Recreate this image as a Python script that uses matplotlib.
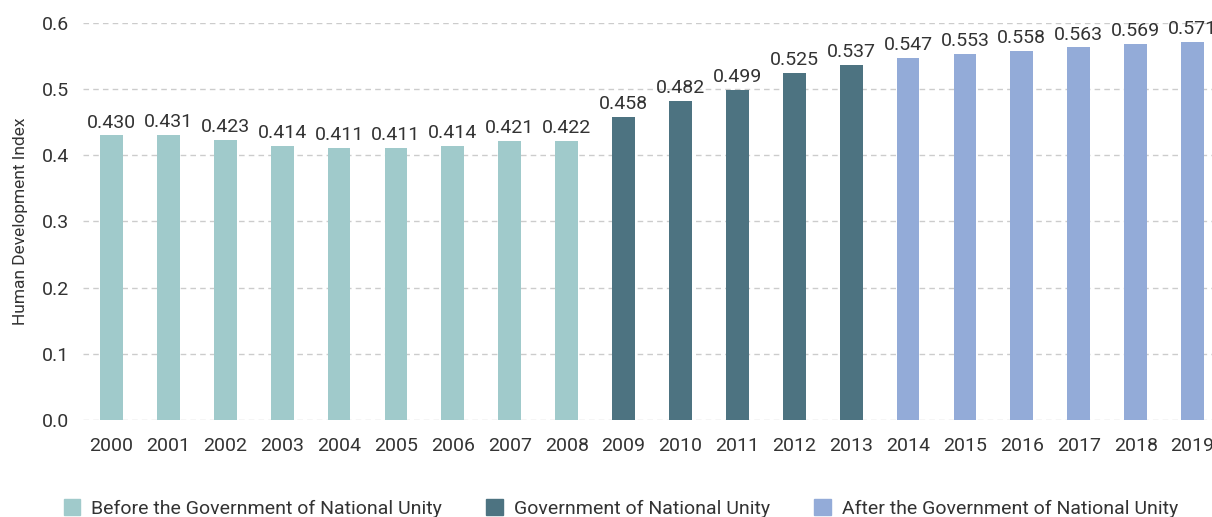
import matplotlib.pyplot as plt
from matplotlib.patches import Patch

years = [str(y) for y in range(2000, 2020)]
hdi = [0.430, 0.431, 0.423, 0.414, 0.411, 0.411, 0.414, 0.421, 0.422,
       0.458, 0.482, 0.499, 0.525, 0.537,
       0.547, 0.553, 0.558, 0.563, 0.569, 0.571]
period = ['before'] * 9 + ['gnu'] * 5 + ['after'] * 6

colors = {'before': '#A0CACB', 'gnu': '#4D7381', 'after': '#93ABD8'}
labels = {'before': 'Before the Government of National Unity',
          'gnu': 'Government of National Unity',
          'after': 'After the Government of National Unity'}

plt.rcParams['font.family'] = ['Roboto', 'DejaVu Sans']
text_col = '#333333'

fig = plt.figure(figsize=(12.12, 5.17), dpi=100)
ax = fig.add_axes([83 / 1212, 97 / 517, (1221 - 83) / 1212, (420 - 23) / 517])

x = range(len(years))
ax.bar(x, hdi, width=0.4, color=[colors[p] for p in period], zorder=2)

for i, v in enumerate(hdi):
    ax.text(i, v + 0.006, f'{v:.3f}', ha='center', va='bottom',
            fontsize=14, color=text_col, clip_on=False)

ax.set_xlim(-0.5, len(years) - 0.5)
ax.set_ylim(0, 0.6)
ax.set_yticks([0, 0.1, 0.2, 0.3, 0.4, 0.5, 0.6])
ax.set_yticklabels(['0.0', '0.1', '0.2', '0.3', '0.4', '0.5', '0.6'])
ax.set_xticks(list(x))
ax.set_xticklabels(years)
ax.tick_params(axis='both', length=0, labelsize=14, labelcolor=text_col)
ax.tick_params(axis='x', pad=12)
ax.tick_params(axis='y', pad=10)
ax.grid(axis='y', color='#CCCCCC', linestyle=(0, (4, 3)), linewidth=1, zorder=0)
for s in ax.spines.values():
    s.set_visible(False)
ax.set_ylabel('Human Development Index', fontsize=12.5, color=text_col, labelpad=10)

handles = [Patch(color=colors[k]) for k in ['before', 'gnu', 'after']]
fig.legend(handles, [labels[k] for k in ['before', 'gnu', 'after']],
           loc='lower left', bbox_to_anchor=(46 / 1212, -0.035), ncol=3,
           frameon=False, fontsize=14, labelcolor=text_col,
           handlelength=0.85, handleheight=0.85, columnspacing=2.3, handletextpad=0.55)

fig.savefig('out.png', dpi=100)
